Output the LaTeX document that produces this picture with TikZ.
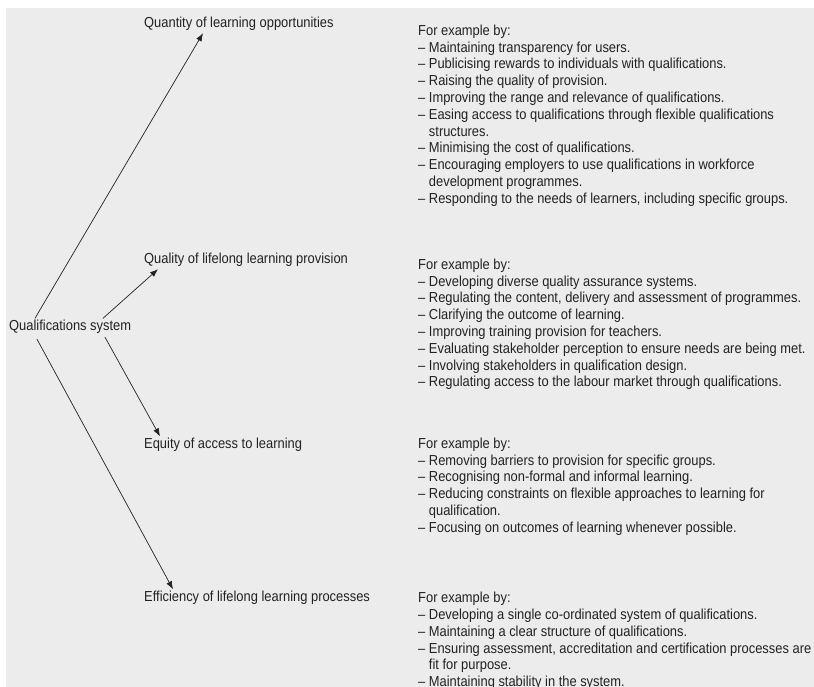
\documentclass[tikz,border=0pt]{standalone}
\usepackage{fontspec}
\setmainfont{Liberation Sans}[FakeStretch=0.89]
\usepackage{tikz}
\usetikzlibrary{arrows.meta}
\definecolor{panelGrey}{HTML}{ECECEC}
\definecolor{inkGrey}{HTML}{222222}

\begin{document}
\begin{tikzpicture}[x=1pt, y=-1pt, style={line cap=round},
    txt/.style={inner sep=0pt, anchor=base west, text=inkGrey,
      font=\fontsize{14.5}{16.8}\selectfont},
    list/.style={txt, anchor=north west, align=left},
    link/.style={draw=inkGrey, line width=0.7pt, -{Latex[length=8pt, width=6pt]}}]
  \useasboundingbox (0,0) rectangle (814,687);
  \fill[panelGrey] (6,8) rectangle (814,687);
  % left: the system and its four aims
  \node[txt] (qs) at (9,330) {Qualifications system};
  \node[txt] (quant) at (144,28) {Quantity of learning opportunities};
  \node[txt] (quali) at (144,264) {Quality of lifelong learning provision};
  \node[txt] (equity) at (144,448) {Equity of access to learning};
  \node[txt] (effic) at (144,601) {Efficiency of lifelong learning processes};
  % right: examples
  \node[list] (ex1) at (418,24.5) {For example by:\\
    -- Maintaining transparency for users.\\
    -- Publicising rewards to individuals with qualifications.\\
    -- Raising the quality of provision.\\
    -- Improving the range and relevance of qualifications.\\
    -- Easing access to qualifications through flexible qualifications\\
    \phantom{-- }structures.\\
    -- Minimising the cost of qualifications.\\
    -- Encouraging employers to use qualifications in workforce\\
    \phantom{-- }development programmes.\\
    -- Responding to the needs of learners, including specific groups.};
  \node[list] (ex2) at (418,258.5) {For example by:\\
    -- Developing diverse quality assurance systems.\\
    -- Regulating the content, delivery and assessment of programmes.\\
    -- Clarifying the outcome of learning.\\
    -- Improving training provision for teachers.\\
    -- Evaluating stakeholder perception to ensure needs are being met.\\
    -- Involving stakeholders in qualification design.\\
    -- Regulating access to the labour market through qualifications.};
  \node[list] (ex3) at (418,437.5) {For example by:\\
    -- Removing barriers to provision for specific groups.\\
    -- Recognising non-formal and informal learning.\\
    -- Reducing constraints on flexible approaches to learning for\\
    \phantom{-- }qualification.\\
    -- Focusing on outcomes of learning whenever possible.};
  \node[list] (ex4) at (418,592) {For example by:\\
    -- Developing a single co-ordinated system of qualifications.\\
    -- Maintaining a clear structure of qualifications.\\
    -- Ensuring assessment, accreditation and certification processes are\\
    \phantom{-- }fit for purpose.\\
    -- Maintaining stability in the system.};
  % arrows
  \draw[link] ([xshift=26pt, yshift=1pt]qs.north west) -- ([xshift=59pt, yshift=-2pt]quant.south west);
  \draw[link] ([xshift=94pt, yshift=1pt]qs.north west) -- ([xshift=14pt, yshift=-2pt]quali.south west);
  \draw[link] ([xshift=96pt, yshift=-4pt]qs.south west) -- ([xshift=16pt, yshift=1pt]equity.north west);
  \draw[link] ([xshift=28pt, yshift=-6pt]qs.south west) -- ([xshift=29pt, yshift=1pt]effic.north west);
\end{tikzpicture}
\end{document}
